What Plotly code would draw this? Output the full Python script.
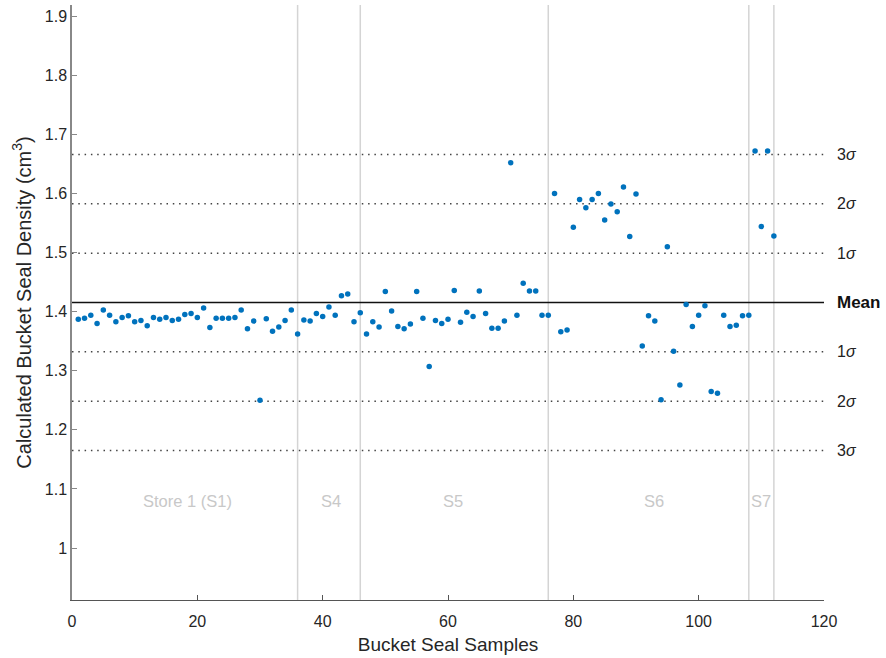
import plotly.graph_objects as go

samples = list(range(1, 113))
density = [
    1.387, 1.389, 1.394, 1.380, 1.403, 1.394, 1.383, 1.390, 1.393, 1.383,
    1.385, 1.376, 1.390, 1.387, 1.390, 1.385, 1.387, 1.395, 1.397, 1.390,
    1.406, 1.373, 1.389, 1.389, 1.389, 1.390, 1.403, 1.371, 1.384, 1.250,
    1.388, 1.367, 1.374, 1.385, 1.403, 1.362, 1.386, 1.384, 1.397, 1.392,
    1.408, 1.394, 1.427, 1.430, 1.383, 1.398, 1.362, 1.383, 1.374, 1.434,
    1.401, 1.375, 1.371, 1.379, 1.434, 1.389, 1.307, 1.385, 1.380, 1.387,
    1.436, 1.382, 1.399, 1.392, 1.435, 1.397, 1.372, 1.372, 1.384, 1.652,
    1.394, 1.448, 1.435, 1.435, 1.394, 1.394, 1.600, 1.366, 1.369, 1.543,
    1.590, 1.576, 1.590, 1.600, 1.555, 1.582, 1.569, 1.611, 1.527, 1.599,
    1.342, 1.393, 1.384, 1.251, 1.510, 1.333, 1.276, 1.412, 1.375, 1.394,
    1.410, 1.265, 1.262, 1.394, 1.375, 1.377, 1.393, 1.394, 1.672, 1.544,
    1.672, 1.528,
]

mean_val = 1.4155
sigma_val = 0.0835
sigma_levels = [3, 2, 1, -1, -2, -3]
sigma_labels = ["3<i>σ</i>", "2<i>σ</i>", "1<i>σ</i>", "1<i>σ</i>", "2<i>σ</i>", "3<i>σ</i>"]

store_bounds = [36, 46, 76, 108, 112]
store_names = ["Store 1 (S1)", "S4", "S5", "S6", "S7"]
store_label_x = [18.5, 41.3, 60.8, 92.9, 110.0]
store_label_y = 1.08

x_ticks = [0, 20, 40, 60, 80, 100, 120]
y_ticks = [1, 1.1, 1.2, 1.3, 1.4, 1.5, 1.6, 1.7, 1.8, 1.9]
y_ticktext = ["1", "1.1", "1.2", "1.3", "1.4", "1.5", "1.6", "1.7", "1.8", "1.9"]

FONT = "Liberation Sans, Arial, Helvetica, sans-serif"

fig = go.Figure()

# vertical store boundaries
for b in store_bounds:
    fig.add_shape(type="line", x0=b, x1=b, yref="paper", y0=0, y1=1,
                  line=dict(color="#d4d4d4", width=1.5), layer="below")

# sigma lines
for k in sigma_levels:
    yv = mean_val + k * sigma_val
    fig.add_shape(type="line", xref="x", x0=0, x1=120, y0=yv, y1=yv,
                  line=dict(color="#444444", width=1.5, dash="1.5px,4.8px"), layer="below")

# mean line
fig.add_shape(type="line", xref="x", x0=0, x1=120, y0=mean_val, y1=mean_val,
              line=dict(color="#111111", width=1.3), layer="below")

fig.add_trace(go.Scatter(
    x=samples, y=density, mode="markers",
    marker=dict(color="#0072BD", size=5.5),
    showlegend=False,
))

# right-side labels
for k, lab in zip(sigma_levels, sigma_labels):
    fig.add_annotation(x=1.0146, xref="paper", y=mean_val + k * sigma_val, yref="y",
                       text=lab, showarrow=False, xanchor="left",
                       font=dict(family=FONT, size=16, color="#222222"))
fig.add_annotation(x=1.0146, xref="paper", y=mean_val, yref="y",
                   text="<b>Mean</b>", showarrow=False, xanchor="left",
                   font=dict(family=FONT, size=17, color="#111111"))

# store labels
for name, lx in zip(store_names, store_label_x):
    fig.add_annotation(x=lx, y=store_label_y, text=name, showarrow=False,
                       font=dict(family=FONT, size=16.5, color="#c8c8c8"))

fig.update_layout(
    width=886, height=658,
    margin=dict(l=72, r=62, t=5, b=58),
    paper_bgcolor="white", plot_bgcolor="white",
    font=dict(family=FONT, size=16, color="#262626"),
    xaxis=dict(range=[0, 120], tickvals=x_ticks,
               showgrid=False, zeroline=False, showline=True,
               linecolor="#555555", linewidth=1.2,
               ticks="inside", ticklen=5, tickcolor="#555555",
               ticklabelstandoff=7,
               tickfont=dict(size=16, color="#262626"),
               title=dict(text="Bucket Seal Samples", font=dict(size=19, color="#262626"), standoff=8)),
    yaxis=dict(range=[0.912, 1.919],
               tickvals=y_ticks, ticktext=y_ticktext,
               showgrid=False, zeroline=False, showline=True,
               linecolor="#888888", linewidth=1.5,
               ticks="inside", ticklen=5, tickcolor="#888888",
               tickfont=dict(size=16, color="#262626"),
               title=dict(text="Calculated Bucket Seal Density (cm<sup>3</sup>)",
                          font=dict(size=20, color="#262626"), standoff=8)),
)

fig.write_html("out.html")
